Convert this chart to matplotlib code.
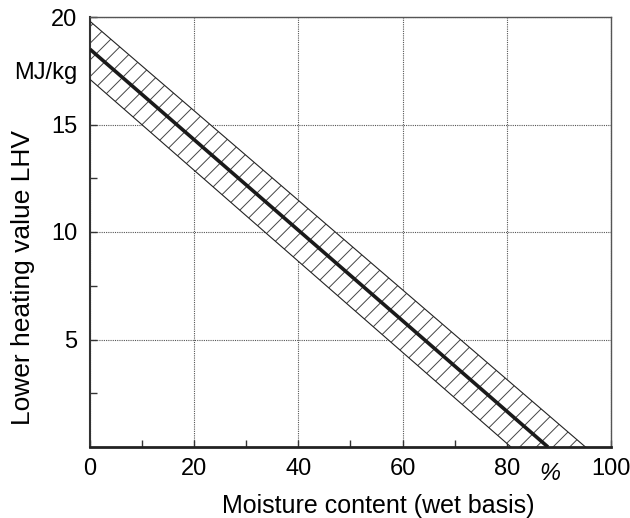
import numpy as np
import matplotlib
matplotlib.use("Agg")
from matplotlib import pyplot as plt
from matplotlib.ticker import FixedLocator, FixedFormatter

plt.rcParams['font.family'] = ['Liberation Sans', 'DejaVu Sans']
plt.rcParams['hatch.linewidth'] = 0.7

# moisture content (%) vs lower heating value (MJ/kg)
mean_x = [0, 87.9]
mean_y = [18.5, 0]
upper_x = [0, 95.1]
upper_y = [19.8, 0]
lower_x = [0, 80.8]
lower_y = [17.1, 0]

xticks = [0, 20, 40, 60, 80, 100]
yticks = [5, 10, 15, 20]
yminor = [2.5, 7.5, 12.5, 17.5]
yminor_labels = ['', '', '', 'MJ/kg']
xminor = [10, 30, 50, 70, 90]

fig = plt.figure(figsize=(6.3, 5.18), dpi=100)
ax = fig.add_axes([90/630, 1-447/518, 521/630, 430/518])

# hatched band between upper and lower bounds
band_x = upper_x + lower_x[::-1]
band_y = upper_y + lower_y[::-1]
ax.fill(band_x, band_y, facecolor='white', edgecolor='#444444', hatch='//', lw=0, zorder=2)
ax.plot(upper_x, upper_y, color='#222222', lw=0.8, zorder=3)
ax.plot(lower_x, lower_y, color='#222222', lw=0.8, zorder=3)
ax.plot(mean_x, mean_y, color='#1a1a1a', lw=2.6, zorder=4, solid_capstyle='butt')

ax.set_xlim(0, 100)
ax.set_ylim(0, 20)
ax.set_xticks(xticks)
ax.set_yticks(yticks)
ax.xaxis.set_minor_locator(FixedLocator(xminor))
ax.yaxis.set_minor_locator(FixedLocator(yminor))
ax.yaxis.set_minor_formatter(FixedFormatter(yminor_labels))

ax.tick_params(which='both', direction='in', length=5, width=1, color='#333333',
               labelsize=17, pad=9, top=False, right=False)
ax.tick_params(axis='x', which='both', pad=8)
ax.grid(True, which='major', linestyle=(0, (1, 1)), color='#555555', lw=0.8, zorder=1)

for s in ['top', 'right']:
    ax.spines[s].set_color('#555555')
    ax.spines[s].set_linewidth(1.0)
ax.spines['left'].set_color('#333333')
ax.spines['left'].set_linewidth(1.5)
ax.spines['bottom'].set_color('#222222')
ax.spines['bottom'].set_linewidth(2.0)

ax.text(88.3, -0.7, '%', fontsize=17, style='italic', ha='center', va='top',
        transform=ax.transData)

ax.set_xlabel('Moisture content (wet basis)', fontsize=18)
ax.set_ylabel('Lower heating value LHV', fontsize=19)
ax.xaxis.set_label_coords(0.553, -0.11)
ax.yaxis.set_label_coords(-0.105, 0.394)

fig.savefig('out.png', dpi=100)
